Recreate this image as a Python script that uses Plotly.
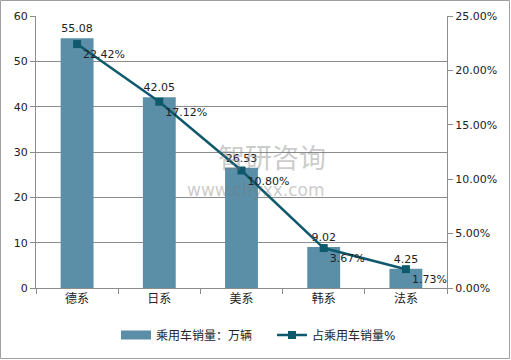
import plotly.graph_objects as go

categories = ["德系", "日系", "美系", "韩系", "法系"]
sales = [55.08, 42.05, 26.53, 9.02, 4.25]
share = [22.42, 17.12, 10.80, 3.67, 1.73]
left_ticks = [0, 10, 20, 30, 40, 50, 60]
right_ticks = [0, 5, 10, 15, 20, 25]

bar_color = "#5B8FA8"
line_color = "#0E5A6C"
grid = "#8C8C8C"
font_family = "DejaVu Sans, Noto Sans CJK SC, sans-serif"

fig = go.Figure()
fig.add_trace(go.Bar(
    x=categories, y=sales, name="乘用车销量：万辆",
    marker=dict(color=bar_color, line=dict(width=0)),
    width=0.4, showlegend=False,
    text=[f"{v:.2f}" for v in sales], textposition="outside",
    textfont=dict(size=11, color="#222222"),
    cliponaxis=False,
))
# legend-only entry drawing the wide bar swatch
fig.add_trace(go.Scatter(
    x=[None], y=[None], name="乘用车销量：万辆", mode="lines",
    line=dict(color=bar_color, width=9), showlegend=True, legend="legend",
))
fig.add_trace(go.Scatter(
    x=categories, y=share, name="占乘用车销量%", yaxis="y2",
    mode="lines+markers+text",
    line=dict(color=line_color, width=2.5),
    marker=dict(symbol="square", size=8, color=line_color),
    text=[f"{v:.2f}%" for v in share], textposition="bottom right",
    textfont=dict(size=11, color="#222222"),
    cliponaxis=False, legend="legend2",
))

L, R, T, B = 36, 64, 16, 72
W, H = 511, 360
pw, ph = W - L - R, H - T - B

leg_common = dict(orientation="h", yanchor="middle", font=dict(size=12),
                  itemwidth=30, bgcolor="rgba(0,0,0,0)", borderwidth=0)

fig.update_layout(
    template="none",
    width=W, height=H,
    margin=dict(l=L, r=R, t=T, b=B, autoexpand=False),
    paper_bgcolor="white", plot_bgcolor="white",
    font=dict(family=font_family, size=11, color="#222222"),
    showlegend=True,
    legend=dict(x=(116 - L) / pw, xanchor="left", y=-(335 - 288) / ph, **leg_common),
    legend2=dict(x=(272 - L) / pw, xanchor="left", y=-(335 - 288) / ph, **leg_common),
    xaxis=dict(type="category", showline=True, linecolor=grid, linewidth=1,
               ticks="outside", tickson="boundaries", ticklen=5, tickcolor=grid,
               showgrid=False, tickfont=dict(size=12), automargin=False),
    yaxis=dict(range=[0, 60], tickvals=left_ticks, showgrid=True, gridcolor=grid,
               gridwidth=1, showline=True, linecolor=grid, ticks="outside",
               ticklen=5, tickcolor=grid, zeroline=False, automargin=False),
    yaxis2=dict(range=[0, 25], tickvals=right_ticks,
                ticktext=[f"{v:.2f}%" for v in right_ticks],
                overlaying="y", side="right", showgrid=False, showline=True,
                linecolor=grid, ticks="outside", ticklen=5, tickcolor=grid,
                zeroline=False, automargin=False),
    shapes=[dict(type="rect", xref="paper", yref="paper",
                 x0=-(L - 0.5) / pw, x1=1 + (R - 1.5) / pw,
                 y0=-(B - 1.5) / ph, y1=1 + (T - 0.5) / ph,
                 line=dict(color="#A0A0A0", width=1))],
    annotations=[
        dict(text="智研咨询", x=(272 - L) / pw, y=(288 - 157) / ph, xref="paper", yref="paper",
             showarrow=False, font=dict(size=27, color="rgba(120,120,120,0.4)",
                                         family="Noto Sans CJK SC")),
        dict(text="www.chyxx.com", x=(256 - L) / pw, y=(288 - 190) / ph, xref="paper", yref="paper",
             showarrow=False, font=dict(size=17, color="rgba(120,120,120,0.4)")),
    ],
)

fig.write_html("out.html", config={"displayModeBar": False},
               post_script="document.body.style.margin='0';")
